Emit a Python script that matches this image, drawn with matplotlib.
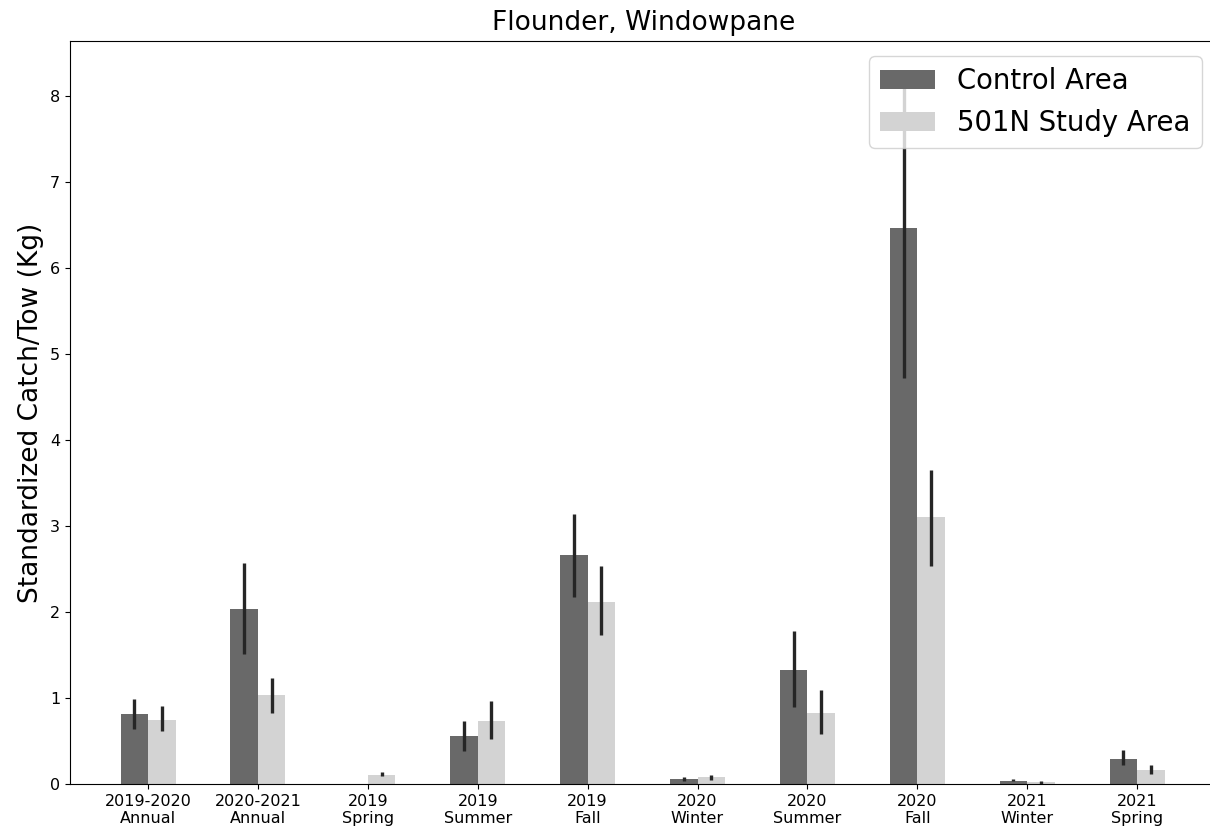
import matplotlib
matplotlib.use("Agg")
import matplotlib.pyplot as plt
import numpy as np

categories = ["2019-2020\nAnnual", "2020-2021\nAnnual", "2019\nSpring", "2019\nSummer",
              "2019\nFall", "2020\nWinter", "2020\nSummer", "2020\nFall",
              "2021\nWinter", "2021\nSpring"]
control_vals = [0.81, 2.04, 0.0, 0.555, 2.66, 0.06, 1.33, 6.47, 0.04, 0.29]
control_lo   = [0.64, 1.51, 0.0, 0.38, 2.17, 0.04, 0.90, 4.72, 0.03, 0.22]
control_hi   = [0.99, 2.57, 0.0, 0.73, 3.14, 0.08, 1.78, 8.23, 0.06, 0.40]
study_vals = [0.75, 1.03, 0.10, 0.73, 2.12, 0.08, 0.83, 3.10, 0.02, 0.16]
study_lo   = [0.62, 0.82, 0.09, 0.52, 1.73, 0.05, 0.58, 2.53, 0.00, 0.12]
study_hi   = [0.91, 1.23, 0.14, 0.97, 2.54, 0.11, 1.09, 3.65, 0.04, 0.22]

fig = plt.figure(figsize=(12.1, 8.38), dpi=100)
ax = fig.add_axes([70/1210, 54/838, 1146.8/1210, 743/838])

x = np.arange(len(categories))
w = 0.25
ax.bar(x - w/2, control_vals, width=w, color="#696969", label="Control Area", zorder=2)
ax.bar(x + w/2, study_vals, width=w, color="#d3d3d3", label="501N Study Area", zorder=2)
err_kw = dict(color="#262626", lw=2.4, zorder=3, solid_capstyle="butt")
for i in range(len(categories)):
    if control_hi[i] > 0:
        ax.plot([x[i] - w/2] * 2, [control_lo[i], control_hi[i]], **err_kw)
    ax.plot([x[i] + w/2] * 2, [study_lo[i], study_hi[i]], **err_kw)

ax.set_xticks(x)
ax.set_xticklabels(categories, fontsize=11.5)
ax.tick_params(axis="y", labelsize=11.5)
ax.set_xlim(-0.71, 9.725)
ax.set_ylim(0, 8.64)
ax.spines["right"].set_visible(False)
ax.set_ylabel("Standardized Catch/Tow (Kg)", fontsize=19)
ax.set_title("Flounder, Windowpane", fontsize=19, pad=8)
leg = ax.legend(loc="upper right", fontsize=19.8, borderaxespad=0.55)

fig.savefig("out.png", dpi=100)
